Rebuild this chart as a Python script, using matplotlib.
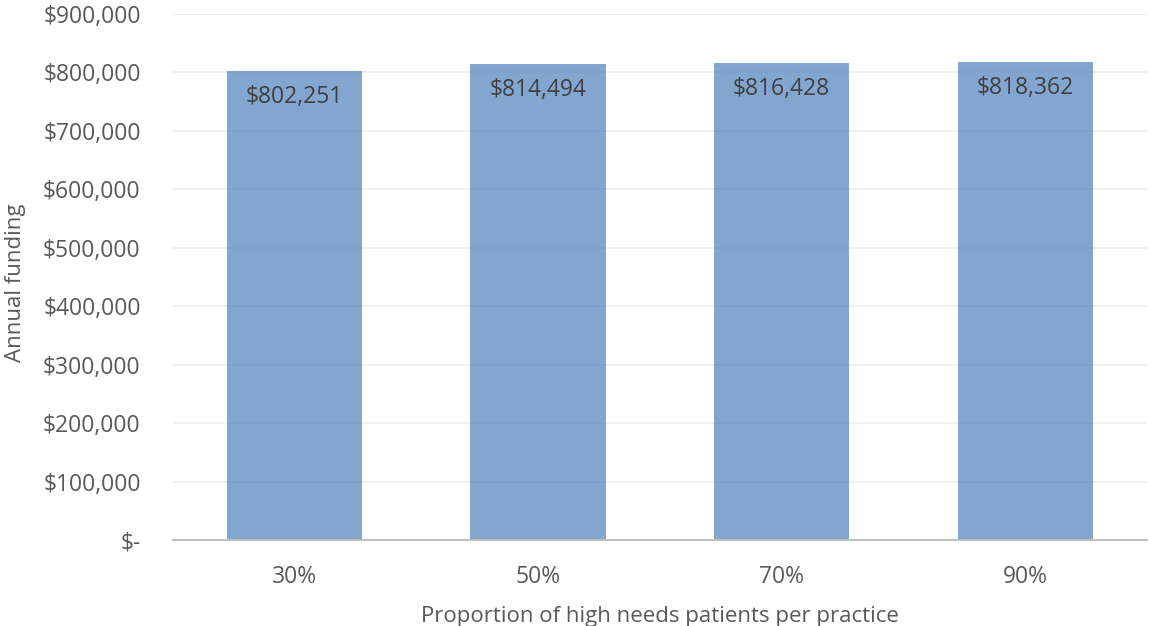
import numpy as np
import matplotlib.pyplot as plt
from matplotlib.ticker import FuncFormatter

categories = ['30%', '50%', '70%', '90%']
funding = [802251, 814494, 816428, 818362]
yticks = [0, 100000, 200000, 300000, 400000, 500000, 600000, 700000, 800000, 900000]

plt.rcParams['font.family'] = ['Open Sans', 'DejaVu Sans']
txt = '#595959'

fig = plt.figure(figsize=(11.51, 6.26), dpi=100)
ax = fig.add_axes([0.150, 0.137, 0.8465, 0.841])

x = np.arange(len(categories))
bars = ax.bar(x, funding, width=0.555, color='#4F81BD', alpha=0.7, zorder=2)

for b, v in zip(bars, funding):
    ax.annotate('${:,}'.format(v), (b.get_x() + b.get_width() / 2, v),
                xytext=(0, -19), textcoords='offset points',
                ha='center', va='center', fontsize=16.5, color='#404040', zorder=3)

ax.set_xlim(-0.5, len(categories) - 0.5)
ax.set_ylim(0, 900000)
ax.set_yticks(yticks)
ax.yaxis.set_major_formatter(FuncFormatter(lambda v, p: '$-' if v == 0 else '${:,.0f}'.format(v)))
ax.set_xticks(x)
ax.set_xticklabels(categories)
ax.grid(axis='y', color='#EDEDED', linewidth=1.2, zorder=1)
ax.set_axisbelow(True)
for s in ['top', 'right', 'left']:
    ax.spines[s].set_visible(False)
ax.spines['bottom'].set_color('#BFBFBF')
ax.spines['bottom'].set_linewidth(1.5)
ax.tick_params(axis='both', length=0, labelsize=16.5, labelcolor=txt)
ax.tick_params(axis='y', pad=23)
ax.tick_params(axis='x', pad=18)

ax.set_ylabel('Annual funding', fontsize=16, color=txt)
ax.yaxis.set_label_coords(-0.151, 0.49)
ax.set_xlabel('Proportion of high needs patients per practice', fontsize=16, color=txt, labelpad=12)

fig.savefig('out.png', dpi=100)
